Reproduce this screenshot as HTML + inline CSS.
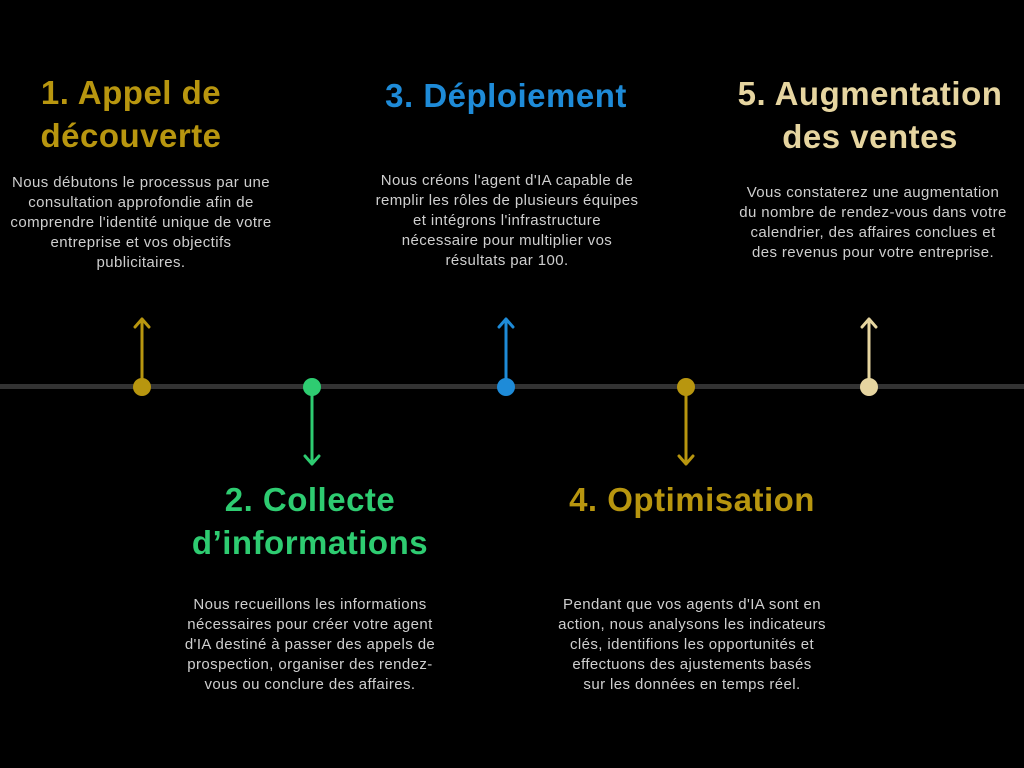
<!DOCTYPE html>
<html><head><meta charset="utf-8"><style>
body{margin:0;width:1024px;height:768px;background:#000;position:relative;overflow:hidden;font-family:"Liberation Sans",sans-serif}
.t{position:absolute;text-align:center;font-weight:bold;font-size:33px;letter-spacing:0.5px;line-height:43px;transform:translateX(-50%);white-space:nowrap}
.p{position:absolute;text-align:center;font-size:15px;letter-spacing:0.4px;line-height:20px;color:#cfcfcf;transform:translateX(-50%);white-space:nowrap}
</style></head><body>
<svg width="1024" height="768" style="position:absolute;left:0;top:0">
<rect x="0" y="384" width="1024" height="5" fill="#333"/>
<g stroke-width="3" fill="none" stroke-linecap="round" stroke-linejoin="round">
<path d="M142 386V319M135 327L142 319L149 327" stroke="#b8960f"/>
<path d="M312 386V464M305 456L312 464L319 456" stroke="#2ecc71"/>
<path d="M506 386V319M499 327L506 319L513 327" stroke="#1e8bd8"/>
<path d="M686 386V464M679 456L686 464L693 456" stroke="#b8960f"/>
<path d="M869 386V319M862 327L869 319L876 327" stroke="#e6d5a0"/>
</g>
<circle cx="142" cy="387" r="9" fill="#b8960f"/>
<circle cx="312" cy="387" r="9" fill="#2ecc71"/>
<circle cx="506" cy="387" r="9" fill="#1e8bd8"/>
<circle cx="686" cy="387" r="9" fill="#b8960f"/>
<circle cx="869" cy="387" r="9" fill="#e6d5a0"/>
</svg>
<div class="t" style="left:131px;top:71px;color:#b8960f">1. Appel de<br>découverte</div>
<div class="p" style="left:141px;top:173px">Nous débutons le processus par une<br>consultation approfondie afin de<br>comprendre l'identité unique de votre<br>entreprise et vos objectifs<br>publicitaires.</div>
<div class="t" style="left:506px;top:74px;color:#1e8bd8">3. Déploiement</div>
<div class="p" style="left:507px;top:171px">Nous créons l'agent d'IA capable de<br>remplir les rôles de plusieurs équipes<br>et intégrons l'infrastructure<br>nécessaire pour multiplier vos<br>résultats par 100.</div>
<div class="t" style="left:870px;top:72px;color:#e6d5a0">5. Augmentation<br>des ventes</div>
<div class="p" style="left:873px;top:183px">Vous constaterez une augmentation<br>du nombre de rendez-vous dans votre<br>calendrier, des affaires conclues et<br>des revenus pour votre entreprise.</div>
<div class="t" style="left:310px;top:478px;color:#2ecc71">2. Collecte<br>d’informations</div>
<div class="p" style="left:310px;top:595px">Nous recueillons les informations<br>nécessaires pour créer votre agent<br>d'IA destiné à passer des appels de<br>prospection, organiser des rendez-<br>vous ou conclure des affaires.</div>
<div class="t" style="left:692px;top:478px;color:#b8960f">4. Optimisation</div>
<div class="p" style="left:692px;top:595px">Pendant que vos agents d'IA sont en<br>action, nous analysons les indicateurs<br>clés, identifions les opportunités et<br>effectuons des ajustements basés<br>sur les données en temps réel.</div>
</body></html>
